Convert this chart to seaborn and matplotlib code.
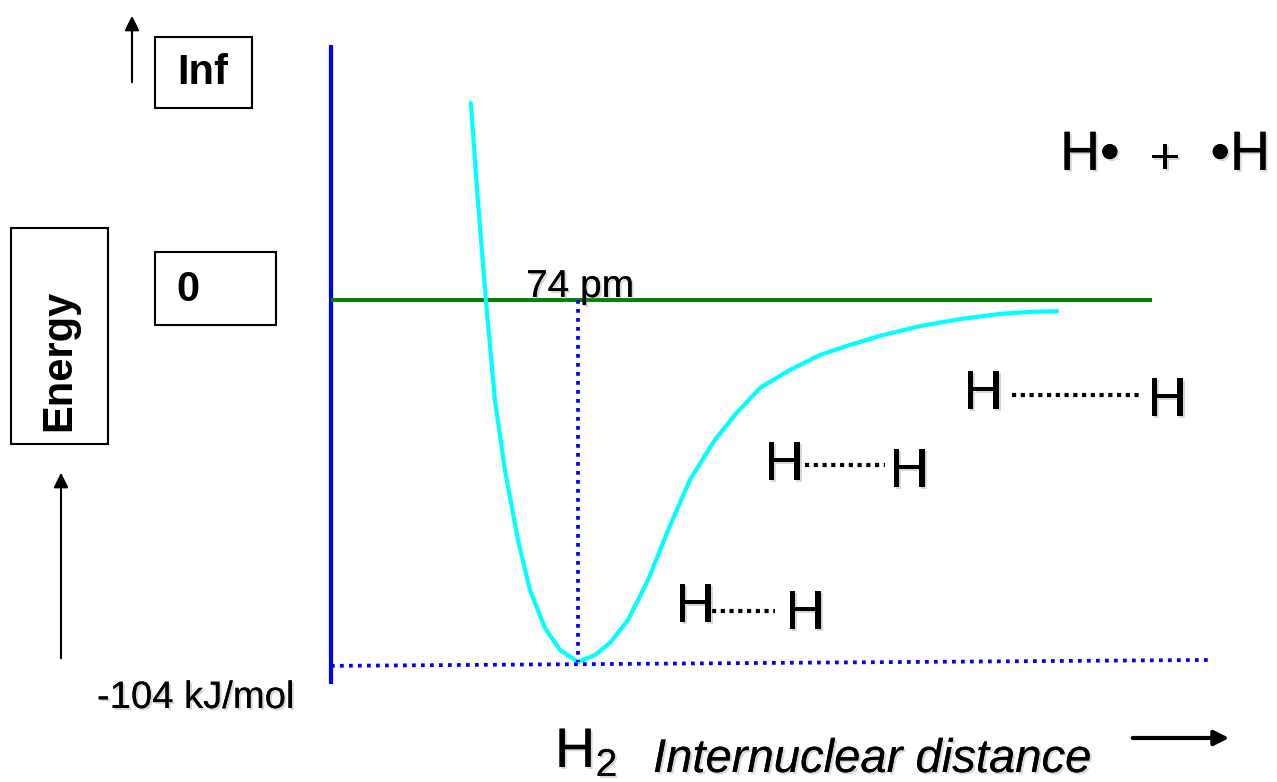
import pandas as pd
import matplotlib.pyplot as plt
import matplotlib.patheffects as pe
from matplotlib.patches import Rectangle, FancyArrowPatch
import seaborn as sns

# Potential energy curve of H2 (distance in pm, energy in kJ/mol)
distance_pm = [41.9, 44.0, 46.4, 49.1, 52.1, 56.0, 59.6, 64.1, 68.6, 74.0, 79.1, 83.6, 89.0,
               95.0, 101.0, 107.5, 115.0, 121.0, 128.5, 137.5, 146.5, 155.5, 164.5, 176.5,
               188.4, 200.4, 209.4, 217.5]
energy_kj = [56.6, 28.7, 0.0, -28.7, -48.8, -68.9, -83.3, -94.2, -100.5, -104.0, -102.0, -98.5,
             -91.9, -80.4, -66.1, -51.7, -40.2, -33.0, -25.3, -20.1, -15.8, -12.9, -10.3, -7.5,
             -5.5, -4.0, -3.4, -3.2]

bond_length = 74          # pm
well_depth = -104         # kJ/mol
zero_level = 0
green_end = 246           # pm, end of the zero line
floor_end = 264           # pm, end of the dotted minimum line
axis_top, axis_bottom = 73.3, -110.3

df = pd.DataFrame({"distance": distance_pm, "energy": energy_kj})

sns.set_theme(style="white")
plt.rcParams['font.family'] = ['Liberation Sans', 'DejaVu Sans']
plt.rcParams['text.color'] = 'black'
plt.rcParams['mathtext.fontset'] = 'custom'
plt.rcParams['mathtext.rm'] = 'Liberation Sans'

W, H = 1277, 782
fig = plt.figure(figsize=(W / 100, H / 100), dpi=100)
ax = fig.add_axes([0, 0, 1, 1])


def fxy(x, y):
    # pixel position -> figure fraction
    return x / W, 1 - y / H


shadow = [pe.withSimplePatchShadow(offset=(1.5, -1.5), shadow_rgbFace='gray', alpha=0.3), pe.Normal()]

# axis line, zero line, curve
ax.plot([0, 0], [axis_top, axis_bottom], color='#0000ff', lw=3.0, solid_capstyle='butt')
ax.plot([0, green_end], [zero_level, zero_level], color='#008000', lw=2.8, solid_capstyle='butt')
sns.lineplot(data=df, x='distance', y='energy', sort=False, color='#00ffff', lw=3.0, ax=ax)
ax.set_xlim(-331 / 3.338, (W - 331) / 3.338)
ax.set_ylim(-(H - 300) / 3.481, 300 / 3.481)
ax.axis('off')

# dotted guides
ax.plot([bond_length, bond_length], [zero_level, well_depth], color='#0000ff', lw=2.7,
        linestyle=(0, (1, 1.4)), dash_capstyle='butt')
ax.plot([0, floor_end], [well_depth - 1.1, well_depth + 0.6], color='#0000ff', lw=2.7,
        linestyle=(0, (1, 1.4)), dash_capstyle='butt')

# boxes
for (x0, y0, x1, y1) in [(155, 37, 252, 108), (155, 252, 276, 325), (11, 228, 108, 444)]:
    fig.patches.append(Rectangle(fxy(x0, y1), (x1 - x0) / W, (y1 - y0) / H,
                                 transform=fig.transFigure, fill=False, ec='black', lw=1.5))

fig.text(*fxy(203, 73), 'Inf', fontsize=30, fontweight='bold', ha='center', va='center')
fig.text(*fxy(176, 290), '0', fontsize=30, fontweight='bold', ha='left', va='center')
fig.text(*fxy(59, 360), 'Energy', fontsize=30, fontweight='bold', rotation=90,
         ha='center', va='center')

# arrows
arrow_kw = dict(transform=fig.transFigure, arrowstyle='-|>', color='black')
fig.patches.append(FancyArrowPatch(fxy(132, 85), fxy(132, 13), mutation_scale=22, lw=1.5, **arrow_kw))
fig.patches.append(FancyArrowPatch(fxy(61, 661), fxy(61, 470), mutation_scale=22, lw=1.5, **arrow_kw))
fig.patches.append(FancyArrowPatch(fxy(1130, 738), fxy(1232, 738), mutation_scale=22, lw=3, **arrow_kw))

# labels
fig.text(*fxy(526, 297), '74 pm', fontsize=28, ha='left', va='baseline', path_effects=shadow)
fig.text(*fxy(97, 708), '-104 kJ/mol', fontsize=27.5, ha='left', va='baseline', path_effects=shadow)
fig.text(*fxy(555, 767), r'H$_{\mathrm{2}}$', fontsize=40, ha='left', va='baseline', path_effects=shadow)
fig.text(*fxy(653, 772), 'Internuclear distance', fontsize=34, style='italic',
         ha='left', va='baseline', path_effects=shadow)

# H atoms at increasing separation
pairs = [((695, 608), (805, 615), (712, 775, 611)),
         ((784, 466), (909, 473), (805, 885, 465)),
         ((983, 395), (1167, 402), (1012, 1142, 395))]
for (h1, h2, (d0, d1, dy)) in pairs:
    fig.text(*fxy(*h1), 'H', fontsize=40, ha='center', va='center', path_effects=shadow)
    fig.text(*fxy(*h2), 'H', fontsize=40, ha='center', va='center', path_effects=shadow)
    fig.add_artist(plt.Line2D([d0 / W, d1 / W], [1 - dy / H, 1 - dy / H], transform=fig.transFigure,
                              color='black', lw=3.0, linestyle=(0, (1, 1.1)), dash_capstyle='butt'))

fig.text(*fxy(1060, 156), 'H•', fontsize=40, ha='left', va='center', path_effects=shadow)
fig.text(*fxy(1165, 160), '+', fontsize=38, ha='center', va='center', path_effects=shadow)
fig.text(*fxy(1270, 156), '•H', fontsize=40, ha='right', va='center', path_effects=shadow)

fig.savefig('out.png', dpi=100)
